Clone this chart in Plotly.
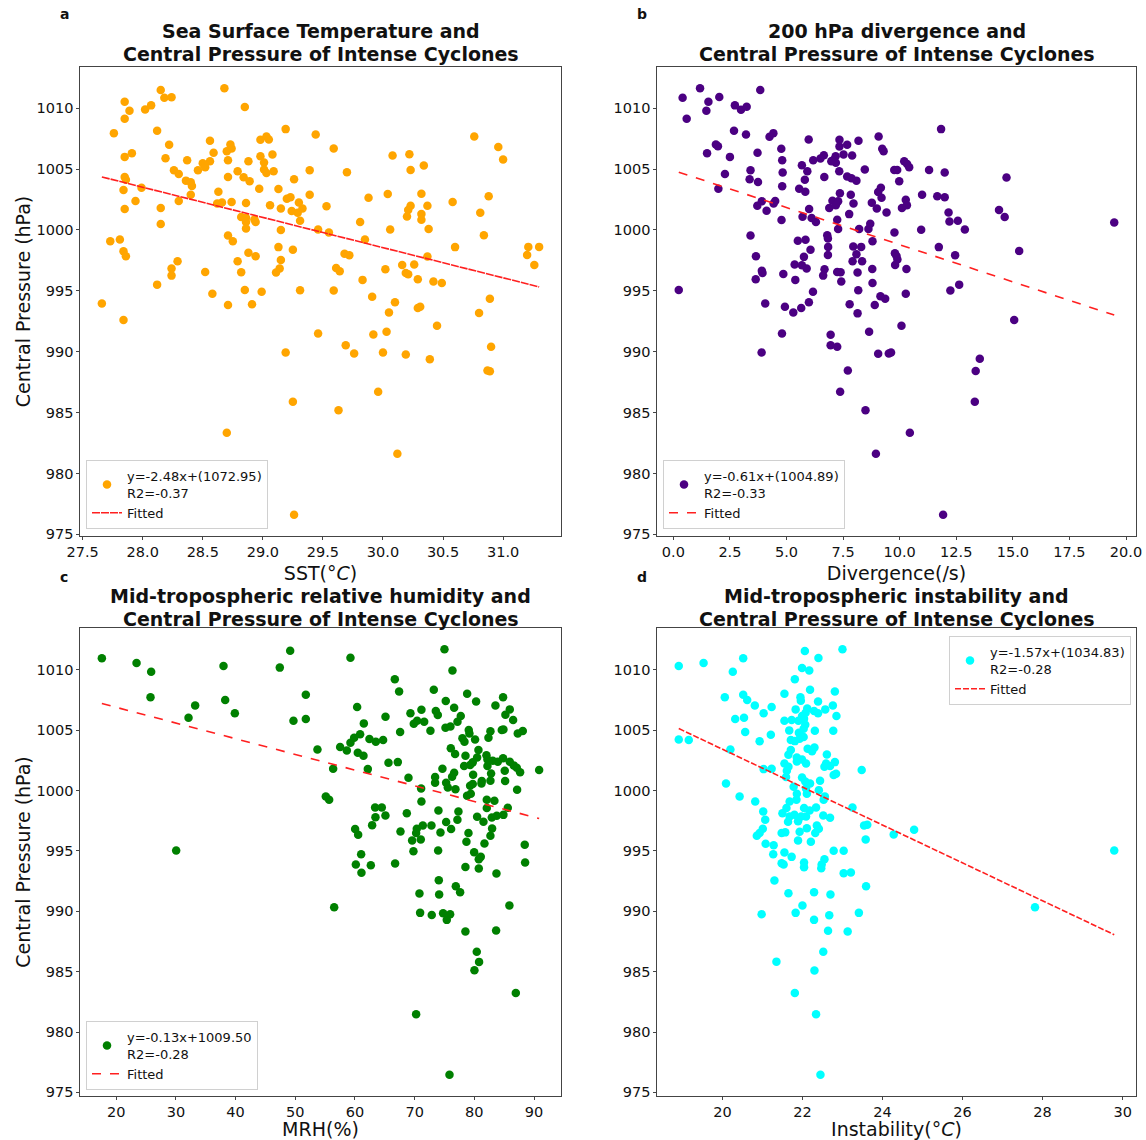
import plotly.graph_objects as go

W, H = 1146, 1140

# ---------------- data (x value, central pressure hPa) ----------------
sst_points = [
    (28.15, 1011.49), (28.68, 1011.63), (27.85, 1010.53), (27.89, 1009.79), (28.02, 1009.90), (28.07, 1010.23), (28.18, 1010.86), (28.24, 1010.89), (28.85, 1010.09), (27.85, 1009.13),
    (28.12, 1008.14), (27.76, 1007.95), (29.19, 1008.28), (29.44, 1007.84), (30.76, 1007.67), (30.96, 1006.82), (31.00, 1005.78), (28.22, 1006.99), (28.56, 1007.32), (28.73, 1007.02),
    (28.74, 1006.69), (28.70, 1006.47), (28.98, 1007.40), (29.03, 1007.67), (29.05, 1007.43), (29.59, 1006.69), (27.85, 1006.00), (27.91, 1006.30), (28.19, 1005.89), (28.37, 1005.72),
    (28.59, 1006.33), (28.56, 1005.64), (28.71, 1005.72), (28.88, 1005.64), (28.98, 1006.05), (29.08, 1006.19), (29.01, 1005.53), (30.08, 1006.11), (30.22, 1006.22), (30.23, 1004.93),
    (30.34, 1005.29), (28.26, 1004.90), (28.30, 1004.60), (28.46, 1004.90), (28.50, 1005.48), (28.52, 1005.15), (28.79, 1004.82), (28.71, 1004.35), (28.84, 1004.32), (28.89, 1004.00),
    (29.01, 1004.96), (29.03, 1004.68), (29.09, 1004.82), (29.39, 1004.90), (29.70, 1004.74), (29.26, 1004.16), (27.85, 1004.35), (27.86, 1004.13), (27.99, 1003.47), (27.84, 1003.28),
    (28.36, 1004.05), (28.40, 1003.91), (28.41, 1003.61), (28.63, 1003.14), (28.97, 1003.39), (29.13, 1003.36), (28.40, 1002.90), (29.39, 1002.90), (29.88, 1002.65), (30.04, 1002.95),
    (30.32, 1002.98), (30.88, 1002.76), (27.94, 1002.37), (28.30, 1002.37), (28.62, 1002.18), (28.66, 1002.26), (28.74, 1002.29), (28.86, 1002.21), (29.06, 1002.02), (29.15, 1001.77),
    (29.20, 1002.57), (29.23, 1002.68), (29.30, 1002.26), (29.33, 1001.77), (29.24, 1001.55), (29.29, 1001.41), (29.53, 1001.94), (30.23, 1001.99), (30.21, 1001.63), (30.20, 1001.11),
    (30.37, 1001.99), (30.58, 1002.29), (30.81, 1001.41), (27.85, 1001.72), (28.15, 1001.80), (28.15, 1000.48), (28.82, 1001.06), (28.86, 1001.00), (28.93, 1000.86), (28.94, 1000.65),
    (28.86, 1000.65), (29.31, 1000.76), (29.81, 1000.65), (30.32, 1001.30), (30.32, 1000.84),
    (28.86, 1000.12), (29.15, 999.99), (29.46, 1000.04), (29.55, 999.79), (30.06, 1000.04), (30.38, 1000.07), (27.73, 999.08), (27.81, 999.22), (27.84, 998.26), (27.86, 997.84),
    (28.71, 999.55), (28.75, 999.08), (29.13, 998.59), (29.25, 998.37), (28.88, 998.12), (28.94, 997.84), (29.85, 999.22), (30.60, 998.59), (30.84, 999.57), (31.21, 998.61),
    (31.30, 998.61), (31.20, 997.95), (31.26, 997.13), (29.68, 998.04), (29.72, 997.93), (30.37, 997.82), (28.29, 997.43), (28.24, 996.83), (28.24, 996.25), (28.79, 997.43),
    (29.15, 997.54), (29.14, 996.83), (29.11, 996.50), (28.52, 996.55), (28.82, 996.53), (29.61, 996.88), (29.64, 996.61), (30.02, 996.77), (30.16, 997.13), (30.26, 997.16),
    (30.19, 996.47), (30.21, 996.36), (30.29, 995.95), (30.42, 995.76), (30.49, 995.65), (29.83, 995.90), (28.12, 995.51), (27.66, 993.97), (27.84, 992.60), (28.58, 994.77),
    (28.71, 993.84), (28.85, 995.07), (28.91, 993.89), (28.99, 994.93), (29.31, 995.04), (29.59, 995.02), (29.91, 994.52), (30.10, 994.06), (30.05, 993.23), (30.29, 993.59),
    (30.31, 993.70), (30.89, 994.36), (30.80, 993.18), (30.45, 992.13), (29.46, 991.50), (29.92, 991.42), (30.03, 991.64), (29.19, 989.94), (29.69, 990.54), (29.76, 989.85),
    (30.00, 989.94), (30.19, 989.77), (30.39, 989.39), (30.90, 990.40), (30.87, 988.45), (30.89, 988.40),
    (29.25, 985.90), (29.96, 986.72), (29.63, 985.19), (28.70, 983.35), (30.12, 981.62), (29.26, 976.62),
]

div_points = [
    (0.41, 1010.86), (1.18, 1011.63), (1.55, 1010.53), (2.03, 1010.91), (1.46, 1009.79), (0.59, 1009.13), (2.72, 1010.23), (2.99, 1009.87), (3.24, 1010.12), (3.84, 1011.49),
    (2.68, 1008.14), (3.21, 1007.84), (4.25, 1007.65), (4.42, 1007.95), (11.83, 1008.28), (5.98, 1007.43), (7.34, 1007.40), (8.18, 1007.32), (9.07, 1007.67), (1.88, 1007.02),
    (1.97, 1006.88), (1.49, 1006.30), (2.50, 1006.00), (3.72, 1006.33), (4.77, 1006.66), (4.81, 1005.72), (7.34, 1006.85), (7.68, 1006.99), (7.52, 1006.19), (7.90, 1006.11),
    (7.17, 1006.05), (7.06, 1005.72), (7.18, 1005.51), (6.98, 1005.64), (6.65, 1006.14), (6.50, 1005.86), (6.18, 1005.72), (9.23, 1006.66), (9.29, 1006.47), (5.68, 1005.31),
    (5.92, 1004.82), (5.81, 1004.13), (2.28, 1004.60), (3.41, 1004.90), (3.37, 1004.16), (3.74, 1003.94), (4.83, 1004.71), (4.81, 1003.58), (1.99, 1003.39), (6.67, 1004.35),
    (7.33, 1004.82), (7.68, 1004.38), (7.87, 1004.24), (8.09, 1004.05), (8.46, 1004.96), (9.76, 1004.93), (9.89, 1004.93), (10.20, 1005.64), (10.33, 1005.42), (10.42, 1005.15),
    (9.98, 1004.00), (11.30, 1004.93), (11.99, 1004.71), (14.72, 1004.30), (5.56, 1003.39), (5.83, 1003.14), (7.36, 1003.01), (7.84, 1002.90), (9.17, 1003.47), (9.05, 1003.12),
    (9.20, 1002.65), (10.99, 1002.90), (11.66, 1002.76), (11.99, 1002.68), (10.27, 1002.48), (10.32, 1002.02), (10.10, 1001.80), (3.71, 1001.99), (3.91, 1002.35), (4.12, 1001.58),
    (4.50, 1002.37), (4.43, 1002.18), (6.00, 1001.72), (6.89, 1001.80), (7.03, 1002.40), (7.21, 1002.26), (7.28, 1002.35), (7.18, 1002.02), (7.96, 1002.18), (7.77, 1001.30),
    (8.77, 1002.24), (8.99, 1001.77), (9.42, 1001.44), (12.16, 1001.44), (14.39, 1001.63), (14.64, 1001.06), (4.78, 1000.81), (5.71, 1001.08), (6.11, 1000.98), (6.30, 1000.65),
    (7.24, 1000.84), (8.70, 1000.51), (12.20, 1000.70), (12.57, 1000.76), (19.48, 1000.62),
    (7.28, 1000.07), (8.21, 1000.07), (8.62, 1000.07), (9.77, 999.79), (10.95, 1000.01), (12.88, 1000.04), (3.41, 999.55), (5.50, 999.11), (5.84, 999.19), (6.80, 999.57),
    (6.83, 999.30), (6.84, 998.61), (6.83, 997.95), (6.06, 998.37), (5.77, 997.79), (8.80, 999.08), (7.95, 998.64), (8.30, 998.61), (8.09, 998.01), (7.92, 997.43),
    (8.34, 997.43), (9.79, 998.09), (9.86, 997.87), (9.90, 997.57), (9.80, 997.13), (11.73, 998.59), (12.45, 997.93), (15.28, 998.28), (3.65, 997.84), (5.36, 997.16),
    (5.68, 997.10), (5.89, 996.83), (3.91, 996.64), (3.94, 996.47), (3.64, 995.95), (4.86, 996.39), (5.39, 995.90), (6.68, 996.77), (6.62, 996.25), (7.24, 996.55),
    (7.39, 996.53), (7.42, 995.76), (8.14, 996.50), (8.79, 996.80), (8.80, 995.65), (10.30, 996.80), (0.24, 995.07), (6.17, 994.93), (8.17, 995.04), (10.27, 994.77),
    (12.24, 995.02), (12.63, 995.51), (4.06, 993.97), (4.93, 993.70), (5.30, 993.23), (5.65, 993.59), (5.99, 994.06), (7.79, 993.89), (8.14, 993.15), (9.15, 994.55),
    (9.36, 994.36), (8.90, 993.84), (15.06, 992.60), (4.80, 991.50), (6.95, 991.39), (8.65, 991.64), (10.08, 992.13), (3.90, 989.94), (6.95, 990.54), (7.24, 990.40),
    (9.05, 989.83), (9.52, 989.85), (9.62, 989.94), (7.71, 988.45), (13.54, 989.42), (13.36, 988.42),
    (7.37, 986.72), (8.49, 985.19), (10.45, 983.35), (8.95, 981.62), (13.32, 985.90), (11.92, 976.62),
]

mrh_points = [
    (17.60, 1010.96), (23.41, 1010.57), (25.86, 1009.85), (25.75, 1007.73), (33.23, 1007.06), (32.12, 1006.04), (37.98, 1010.32), (38.26, 1007.50), (39.88, 1006.40), (47.41, 1010.19),
    (49.15, 1011.59), (51.77, 1007.95), (49.70, 1005.79), (51.77, 1005.93), (59.25, 1011.01), (75.00, 1011.71), (76.34, 1009.96), (66.68, 1009.22), (67.40, 1008.22), (73.21, 1008.36),
    (78.80, 1008.03), (80.30, 1007.39), (84.82, 1007.73), (75.22, 1007.42), (83.54, 1007.06), (60.37, 1006.92), (76.62, 1006.86), (85.94, 1006.73), (71.14, 1006.70), (69.30, 1006.40),
    (73.55, 1006.59), (73.88, 1006.26), (77.73, 1006.18), (85.21, 1006.29), (65.12, 1006.12), (70.42, 1005.79), (71.60, 1005.71), (77.18, 1005.71), (86.50, 1005.85), (61.49, 1005.57),
    (69.86, 1005.54), (75.17, 1005.21), (76.00, 1005.32), (72.65, 1004.96), (79.07, 1005.02), (79.18, 1004.74), (82.70, 1004.91), (84.60, 1005.02), (84.88, 1005.07), (87.28, 1004.74),
    (88.12, 1004.93), (67.57, 1004.85), (82.37, 1004.38), (78.01, 1004.33), (78.35, 1004.05), (80.13, 1004.24), (60.87, 1004.66), (59.87, 1004.38), (59.25, 1003.97), (62.43, 1004.27),
    (63.50, 1004.05), (64.72, 1004.19), (53.72, 1003.41), (57.52, 1003.61), (58.64, 1003.33), (60.48, 1003.14), (61.43, 1002.89), (76.06, 1003.50), (76.78, 1003.03), (78.52, 1002.89),
    (80.69, 1003.36), (82.03, 1002.92), (80.47, 1002.75), (82.20, 1002.58), (83.09, 1002.47), (83.93, 1002.39), (84.82, 1002.69), (85.94, 1002.39), (86.61, 1002.09), (87.11, 1001.89),
    (87.67, 1001.53), (90.86, 1001.70), (85.10, 1001.64), (82.81, 1001.42), (82.20, 1002.03), (79.74, 1002.34), (79.30, 1002.12), (78.29, 1002.03), (79.80, 1001.31), (74.66, 1001.81),
    (76.62, 1001.48), (76.28, 1001.15), (65.62, 1002.31), (67.18, 1002.36), (62.16, 1001.78), (56.35, 1001.81), (68.97, 1001.06), (73.43, 1001.12), (73.43, 1000.65), (75.28, 1000.65),
    (81.25, 1000.79), (81.20, 1000.59), (82.70, 1000.82), (85.16, 1000.79), (79.30, 1000.40), (79.74, 1000.54), (71.09, 1000.18), (75.56, 1000.26), (76.84, 1000.12), (87.17, 1000.07),
    (55.12, 999.52), (55.68, 999.24), (71.14, 999.10), (78.79, 999.57), (79.41, 999.74), (82.09, 999.24), (83.37, 999.16), (63.38, 998.60), (64.50, 998.60), (63.44, 997.80),
    (65.11, 997.94), (62.88, 997.14), (68.69, 998.13), (73.99, 998.36), (77.34, 998.27), (82.09, 998.55), (85.61, 998.58), (80.47, 997.83), (81.53, 997.42), (82.93, 997.77),
    (83.76, 997.91), (84.88, 997.99), (77.17, 997.58), (75.28, 997.39), (71.37, 997.11), (72.82, 997.11), (76.11, 996.81), (82.98, 996.86), (74.33, 996.53), (79.02, 996.48),
    (70.36, 996.84), (70.25, 996.48), (67.63, 996.61), (60.03, 996.81), (60.54, 996.34), (69.58, 995.87), (71.03, 995.95), (82.70, 996.26), (78.68, 995.76), (81.70, 995.62),
    (88.45, 995.51), (30.05, 995.04), (69.80, 994.98), (73.94, 995.04), (79.97, 994.90), (81.08, 994.51), (80.75, 994.32), (61.04, 994.73), (60.15, 993.88), (62.66, 993.82),
    (61.09, 993.19), (66.73, 993.96), (78.51, 993.68), (80.75, 993.55), (83.71, 993.13), (88.51, 994.04), (74.05, 992.58), (76.90, 992.08), (77.62, 991.58), (70.81, 991.47),
    (74.11, 991.39), (56.52, 990.34), (70.92, 989.87), (72.87, 989.70), (74.77, 989.84), (75.95, 989.76), (75.39, 989.29), (85.88, 990.48), (78.51, 988.32), (83.65, 988.41),
    (80.41, 986.64), (80.80, 985.81), (80.02, 985.12), (86.95, 983.24), (70.25, 981.47), (75.84, 976.46),
]

inst_points = [
    (18.91, 1010.32), (19.53, 1010.57), (20.52, 1010.96), (20.26, 1009.85), (22.06, 1011.57), (22.40, 1010.99), (23.00, 1011.71), (21.99, 1010.16), (22.17, 1009.96), (21.81, 1009.22),
    (20.06, 1007.73), (20.52, 1007.95), (20.62, 1007.50), (20.81, 1007.06), (21.23, 1006.92), (21.03, 1006.40), (21.55, 1008.03), (22.19, 1008.36), (21.95, 1007.73), (21.96, 1007.45),
    (22.39, 1007.39), (22.81, 1008.22), (22.76, 1007.06), (22.57, 1006.73), (22.85, 1006.18), (22.29, 1006.59), (22.39, 1006.40), (21.83, 1006.73), (22.12, 1006.81), (22.08, 1006.45),
    (20.32, 1005.93), (20.54, 1006.04), (21.55, 1005.79), (21.73, 1005.85), (21.90, 1005.79), (22.04, 1005.96), (21.99, 1006.18), (22.07, 1005.46), (22.03, 1005.13), (21.67, 1004.99),
    (21.91, 1004.80), (22.31, 1004.96), (22.77, 1004.96), (20.57, 1004.85), (21.21, 1004.63), (20.93, 1004.08), (18.91, 1004.24), (19.16, 1004.19), (21.71, 1004.19), (21.81, 1004.10),
    (21.93, 1004.30), (22.03, 1004.44), (22.13, 1003.47), (22.30, 1003.58), (22.24, 1003.27), (21.71, 1003.36), (21.65, 1002.97), (20.20, 1003.41), (22.61, 1003.00), (22.59, 1002.25),
    (22.69, 1002.03), (22.81, 1002.36), (22.55, 1001.98), (21.86, 1002.75), (21.99, 1002.58), (22.09, 1002.25), (21.86, 1002.42), (21.55, 1002.25), (21.65, 1001.98), (21.61, 1001.64),
    (21.59, 1001.12), (21.03, 1001.78), (21.23, 1001.81), (23.48, 1001.70), (22.78, 1001.29), (22.84, 1001.40), (20.09, 1000.59), (21.99, 1001.09), (22.07, 1000.76), (22.19, 1000.59),
    (22.44, 1000.82), (21.78, 1000.32), (22.09, 1000.18), (22.41, 1000.04),
    (20.43, 999.52), (20.82, 999.10), (21.68, 999.10), (21.85, 999.24), (21.86, 999.74), (22.11, 999.74), (22.53, 999.24), (22.56, 999.52), (21.02, 998.27), (21.07, 997.58),
    (21.60, 998.55), (21.50, 998.13), (21.68, 997.86), (21.80, 998.00), (21.64, 997.42), (21.89, 997.47), (21.97, 997.86), (22.09, 997.86), (22.04, 998.55), (22.18, 998.36),
    (22.34, 998.60), (22.52, 997.94), (22.69, 997.75), (22.36, 997.11), (22.41, 996.84), (22.11, 996.89), (21.93, 996.59), (22.32, 996.48), (23.25, 998.60), (23.54, 997.11),
    (23.62, 997.17), (23.58, 995.95), (24.28, 996.37), (24.79, 996.75), (21.01, 996.84), (20.93, 996.48), (20.86, 996.26), (21.48, 996.48), (21.57, 996.54), (21.89, 995.87),
    (22.21, 995.76), (21.08, 995.59), (21.28, 995.48), (29.79, 995.04), (21.55, 994.87), (21.27, 994.73), (21.73, 994.51), (22.78, 995.01), (23.03, 995.01), (22.55, 994.32),
    (21.48, 993.99), (21.53, 993.88), (22.04, 994.04), (22.04, 993.66), (22.48, 993.88), (22.47, 993.57), (23.03, 993.16), (23.21, 993.21), (21.30, 992.55), (23.59, 992.08),
    (21.65, 991.50), (22.29, 991.58), (22.70, 991.39), (22.00, 990.48), (20.98, 989.76), (21.83, 989.87), (22.29, 989.29), (22.67, 989.68), (23.41, 989.87), (27.81, 990.34),
    (22.64, 988.38), (23.13, 988.32),
    (22.52, 986.64), (21.35, 985.83), (22.30, 985.09), (21.81, 983.24), (22.34, 981.47), (22.45, 976.46),
]

# fitted regressions (slope, intercept) and labels shown in legends
fit_slopes = [-2.48, -0.61, -0.13, -1.57]
fit_intercepts = [1072.95, 1004.89, 1009.50, 1034.83]
fit_labels = ["y=-2.48x+(1072.95)<br>R2=-0.37",
              "y=-0.61x+(1004.89)<br>R2=-0.33",
              "y=-0.13x+1009.50<br>R2=-0.28",
              "y=-1.57x+(1034.83)<br>R2=-0.28"]

title_lines = [["Sea Surface Temperature and", "Central Pressure of Intense Cyclones"],
               ["200 hPa divergence and", "Central Pressure of Intense Cyclones"],
               ["Mid-tropospheric relative humidity and", "Central Pressure of Intense Cyclones"],
               ["Mid-tropospheric instability and", "Central Pressure of Intense Cyclones"]]
x_labels = ["SST(°<i>C</i>)", "Divergence(/s)", "MRH(%)", "Instability(°<i>C</i>)"]
panel_letters = ["a", "b", "c", "d"]
x_tickvals = [[27.5, 28.0, 28.5, 29.0, 29.5, 30.0, 30.5, 31.0],
              [0.0, 2.5, 5.0, 7.5, 10.0, 12.5, 15.0, 17.5, 20.0],
              [20, 30, 40, 50, 60, 70, 80, 90],
              [20, 22, 24, 26, 28, 30]]
x_tickformats = [".1f", ".1f", "d", "d"]
y_tickvals = [975, 980, 985, 990, 995, 1000, 1005, 1010]
colors = ["#FFA500", "#4B0082", "#008000", "#00FFFF"]

# ---------------- layout geometry (pixels) ----------------
FONT = "DejaVu Sans"
def px(x):
    return x / W
def py(y):
    return 1 - y / H

col_px = [(80, 561), (657, 1136)]
row_px = [(67, 536), (628, 1096)]
title_line_y = [(31, 54), (596, 619)]
letter_y = [14, 577]
panels = [(0, 0), (0, 1), (1, 0), (1, 1)]
legend_pos = [
    dict(x=px(86), y=py(529), xanchor="left", yanchor="bottom"),
    dict(x=px(663), y=py(529), xanchor="left", yanchor="bottom"),
    dict(x=px(86), y=py(1090), xanchor="left", yanchor="bottom"),
    dict(x=px(1131), y=py(636), xanchor="right", yanchor="top"),
]
line_dash = ["8px,1px", "dash", "dash", "6px,2px"]

def auto_range(vals):
    lo, hi = min(vals), max(vals)
    m = 0.05 * (hi - lo)
    return [lo - m, hi + m]

fig = go.Figure()
layout = dict(
    width=W, height=H,
    margin=dict(l=0, r=0, t=0, b=0),
    paper_bgcolor="white", plot_bgcolor="white",
    font=dict(family=FONT, size=15, color="#111"),
    showlegend=True,
)
annotations = []
all_points = [sst_points, div_points, mrh_points, inst_points]

for i, pts in enumerate(all_points):
    r, c = panels[i]
    xs = [p[0] for p in pts]
    ys = [p[1] for p in pts]
    ax = "" if i == 0 else str(i + 1)
    xref, yref = "x" + ax, "y" + ax
    leg = "legend" if i == 0 else "legend" + str(i + 1)

    fig.add_trace(go.Scatter(
        x=xs, y=ys, mode="markers", xaxis=xref, yaxis=yref, legend=leg,
        name=fit_labels[i],
        marker=dict(color=colors[i], size=8.5, line=dict(width=0)),
    ))
    x0, x1 = min(xs), max(xs)
    fig.add_trace(go.Scatter(
        x=[x0, x1],
        y=[fit_slopes[i] * x0 + fit_intercepts[i], fit_slopes[i] * x1 + fit_intercepts[i]],
        mode="lines", xaxis=xref, yaxis=yref, legend=leg, name="Fitted",
        line=dict(color="#ff2020", width=1.6, dash=line_dash[i]),
    ))

    cx0, cx1 = col_px[c]
    ry0, ry1 = row_px[r]
    axis_common = dict(
        showline=True, mirror=True, linecolor="#444", linewidth=1.2,
        ticks="outside", ticklen=2.5, tickwidth=1.2, tickcolor="#444",
        showgrid=False, zeroline=False, automargin=False,
        tickfont=dict(family=FONT, size=14.5, color="#111"),
    )
    layout["xaxis" + ax] = dict(
        axis_common, domain=[px(cx0), px(cx1)], anchor=yref,
        range=auto_range(xs), tickmode="array", tickvals=x_tickvals[i],
        tickformat=x_tickformats[i],
        title=dict(text=x_labels[i], font=dict(family=FONT, size=19, color="#111"), standoff=7),
    )
    yax = dict(
        axis_common, domain=[py(ry1), py(ry0)], anchor=xref,
        range=auto_range(ys), tickmode="array", tickvals=y_tickvals,
    )
    if c == 0:
        yax["title"] = dict(text="Central Pressure (hPa)", font=dict(family=FONT, size=19, color="#111"), standoff=0)
    layout["yaxis" + ax] = yax

    layout[leg] = dict(
        legend_pos[i],
        bgcolor="rgba(255,255,255,0.85)", bordercolor="#d0d0d0", borderwidth=1,
        font=dict(family=FONT, size=13, color="#111"),
        itemsizing="trace", tracegroupgap=2,
    )

    for line_text, ly in zip(title_lines[i], title_line_y[r]):
        annotations.append(dict(
            text="<b>" + line_text + "</b>",
            x=px((cx0 + cx1) / 2), y=py(ly), xref="paper", yref="paper",
            xanchor="center", yanchor="middle", showarrow=False, borderpad=0,
            font=dict(family=FONT, size=19, color="#111"),
        ))
    annotations.append(dict(
        text="<b>" + panel_letters[i] + "</b>",
        x=px(cx0 - 22), y=py(letter_y[r]), xref="paper", yref="paper",
        xanchor="left", yanchor="middle", showarrow=False,
        font=dict(family=FONT, size=14, color="#111"),
    ))

layout["annotations"] = annotations
fig.update_layout(**layout)

fig.write_html(
    "out.html",
    config={"displayModeBar": False},
    post_script="document.body.style.margin='0';document.body.style.overflow='hidden';",
)
